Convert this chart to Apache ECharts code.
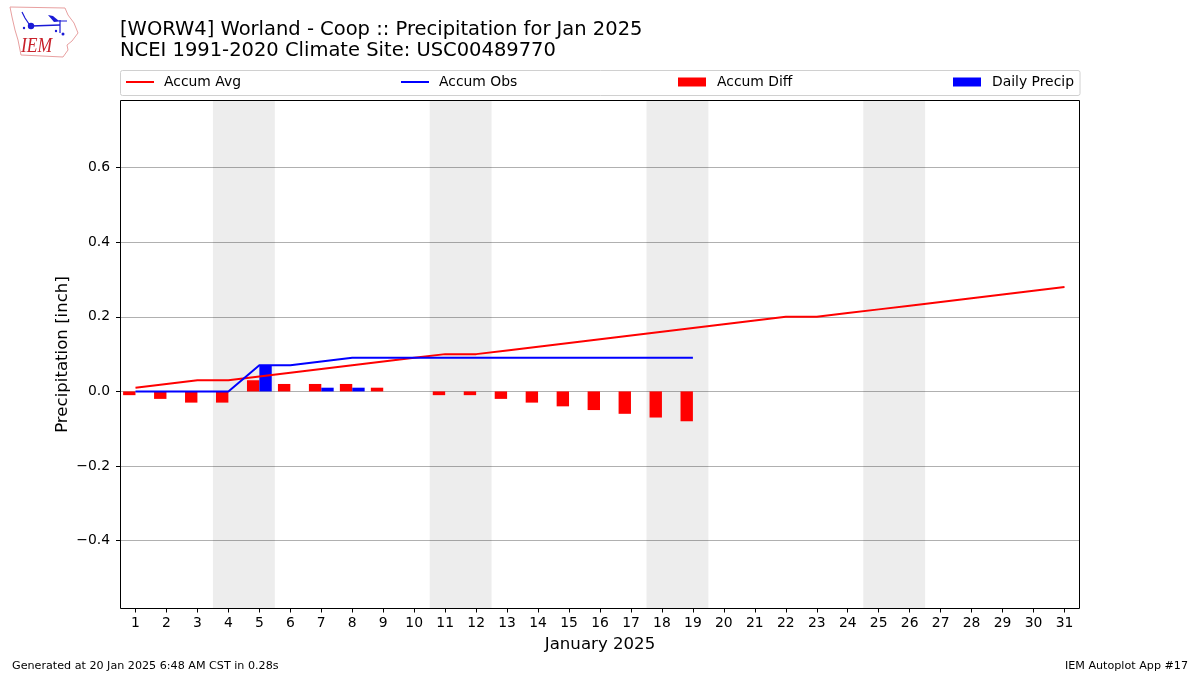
<!DOCTYPE html>
<html>
<head>
<meta charset="utf-8">
<style>html,body{margin:0;padding:0;background:#fff}#c{width:1200px;height:675px}</style>
<script src="https://cdn.jsdelivr.net/npm/echarts@6/dist/echarts.min.js"></script>
</head>
<body>
<div id="c"></div>
<script>
const days = Array.from({length: 31}, (_, i) => String(i + 1));
const accumAvg = [0.01,0.02,0.03,0.03,0.04,0.05,0.06,0.07,0.08,0.09,0.10,0.10,0.11,0.12,0.13,0.14,0.15,0.16,0.17,0.18,0.19,0.20,0.20,0.21,0.22,0.23,0.24,0.25,0.26,0.27,0.28];
const accumObs = [0,0,0,0,0.07,0.07,0.08,0.09,0.09,0.09,0.09,0.09,0.09,0.09,0.09,0.09,0.09,0.09,0.09];
const accumDiff = [-0.01,-0.02,-0.03,-0.03,0.03,0.02,0.02,0.02,0.01,0,-0.01,-0.01,-0.02,-0.03,-0.04,-0.05,-0.06,-0.07,-0.08];
const dailyPrecip = [0,0,0,0,0.07,0,0.01,0.01,0,0,0,0,0,0,0,0,0,0,0];
const weekendBands = [[3.5,5.5],[10.5,12.5],[17.5,19.5],[24.5,26.5]];
const yTicks = [-0.4,-0.2,0,0.2,0.4,0.6];
const yMin = -0.582, yMax = 0.78;
const FONT = 'DejaVu Sans';
const RED = '#ff0000', BLUE = '#0000ff';
const LOGO_BLUE = '#1a1ad6';

function legendEntry(name, left, h, pad) {
  return {
    data: [name], left: left, top: 75, itemWidth: 28, itemHeight: h, itemGap: 0, icon: 'rect', padding: 0,
    selectedMode: false, textStyle: {fontFamily: FONT, fontSize: 13.9, color: '#000', padding: [0,0,0,pad]}
  };
}

const chart = echarts.init(document.getElementById('c'), null, {renderer: 'canvas'});
chart.setOption({
  animation: false,
  backgroundColor: '#fff',
  title: [
    {text: '[WORW4] Worland - Coop :: Precipitation for Jan 2025\nNCEI 1991-2020 Climate Site: USC00489770',
     left: 120, top: 19, padding: 0, textStyle: {fontFamily: FONT, fontSize: 19.5, fontWeight: 'normal', color: '#000', lineHeight: 21.5}},
    {text: 'Generated at 20 Jan 2025 6:48 AM CST in 0.28s', left: 12, top: 661, padding: 0,
     textStyle: {fontFamily: FONT, fontSize: 11.15, fontWeight: 'normal', color: '#000'}},
    {text: 'IEM Autoplot App #17', right: 12, top: 661, padding: 0,
     textStyle: {fontFamily: FONT, fontSize: 11.15, fontWeight: 'normal', color: '#000'}}
  ],
  legend: [
    legendEntry('Accum Avg', 126, 2, 5),
    legendEntry('Accum Obs', 401, 2, 5),
    legendEntry('Accum Diff', 678, 9, 6),
    legendEntry('Daily Precip', 953, 9, 6)
  ],
  grid: {left: 120, top: 100.5, width: 960, height: 508, show: false},
  xAxis: [
    {type: 'category', data: days, boundaryGap: true,
     name: 'January 2025', nameLocation: 'middle', nameGap: 28, nameMoveOverlap: false,
     nameTextStyle: {fontFamily: FONT, fontSize: 16.6, color: '#000'},
     axisLine: {show: false, onZero: false},
     axisTick: {show: true, alignWithLabel: true, length: 4, lineStyle: {color: '#000', width: 1}},
     axisLabel: {fontFamily: FONT, fontSize: 13.9, color: '#000', margin: 8, interval: 0},
     splitLine: {show: false}},
    {type: 'value', min: 0.5, max: 31.5, show: false, splitLine: {show: false}}
  ],
  yAxis: {
    type: 'value', min: yMin, max: yMax,
    name: 'Precipitation [inch]', nameLocation: 'middle', nameGap: 49, nameMoveOverlap: false,
    nameTextStyle: {fontFamily: FONT, fontSize: 16.6, color: '#000'},
    axisLine: {show: false},
    axisTick: {show: true, length: 4, lineStyle: {color: '#000', width: 1}, customValues: yTicks},
    axisLabel: {fontFamily: FONT, fontSize: 13.9, color: '#000', margin: 10, lineHeight: 18, customValues: yTicks,
      formatter: v => v.toFixed(1).replace('-', '\u2212')},
    splitLine: {show: true, lineStyle: {color: '#b0b0b0', width: 1, type: 'solid'}, customValues: yTicks}
  },
  series: [
    {name: 'Weekends', type: 'line', xAxisIndex: 1, data: [], silent: true, symbol: 'none', z: 1,
     markArea: {silent: true, itemStyle: {color: 'rgba(0,0,0,0.07)'},
       data: weekendBands.map(b => [{xAxis: b[0]}, {xAxis: b[1]}])}},
    {name: 'Accum Diff', type: 'bar', data: accumDiff, barWidth: '40%', barGap: 0, itemStyle: {color: RED}, z: 2},
    {name: 'Daily Precip', type: 'bar', data: dailyPrecip, barWidth: '40%', barGap: 0, itemStyle: {color: BLUE}, z: 2},
    {name: 'Accum Avg', type: 'line', data: accumAvg, showSymbol: false, symbol: 'none', lineStyle: {color: RED, width: 2}, itemStyle: {color: RED}, z: 3},
    {name: 'Accum Obs', type: 'line', data: accumObs, showSymbol: false, symbol: 'none', lineStyle: {color: BLUE, width: 2}, itemStyle: {color: BLUE}, z: 4}
  ],
  graphic: [
    {type: 'rect', shape: {x: 120.5, y: 70.5, width: 959.5, height: 25, r: 2}, style: {fill: '#fff', stroke: '#d0d0d0', lineWidth: 1}, z: -1, silent: true},
    {type: 'rect', shape: {x: 120.5, y: 100.5, width: 959, height: 508}, style: {fill: 'none', stroke: '#000', lineWidth: 1}, z: 10, silent: true},
    {type: 'polygon', shape: {points: [[10,7],[65,8],[68,15],[74,23],[78,33],[72,41],[67,45],[68,50],[63,57],[21,55],[18,40],[15,30],[12,17]]},
     style: {fill: 'none', stroke: '#e8a0a0', lineWidth: 1}, silent: true},
    {type: 'polyline', shape: {points: [[31,26],[60,25]]}, style: {stroke: LOGO_BLUE, lineWidth: 1.5, fill: 'none'}, silent: true},
    {type: 'polyline', shape: {points: [[60,20],[60,33]]}, style: {stroke: LOGO_BLUE, lineWidth: 1.2, fill: 'none'}, silent: true},
    {type: 'polyline', shape: {points: [[22,12],[25,18],[29,24]]}, style: {stroke: LOGO_BLUE, lineWidth: 1.2, fill: 'none'}, silent: true},
    {type: 'polygon', shape: {points: [[48,15],[53,16],[59,21],[54,22]]}, style: {fill: LOGO_BLUE}, silent: true},
    {type: 'polyline', shape: {points: [[54,21],[67,21]]}, style: {stroke: LOGO_BLUE, lineWidth: 1, fill: 'none'}, silent: true},
    {type: 'circle', shape: {cx: 31, cy: 26, r: 3.2}, style: {fill: LOGO_BLUE}, silent: true},
    {type: 'circle', shape: {cx: 24, cy: 28, r: 1.2}, style: {fill: LOGO_BLUE}, silent: true},
    {type: 'circle', shape: {cx: 56, cy: 31, r: 1.2}, style: {fill: LOGO_BLUE}, silent: true},
    {type: 'circle', shape: {cx: 63, cy: 34, r: 1.5}, style: {fill: LOGO_BLUE}, silent: true},
    {type: 'text', x: 21, y: 35, scaleX: 0.8, silent: true, style: {text: 'IEM', fontFamily: 'Liberation Serif', fontStyle: 'italic', fontSize: 22, fill: '#c8202a'}}
  ]
});
</script>
</body>
</html>
